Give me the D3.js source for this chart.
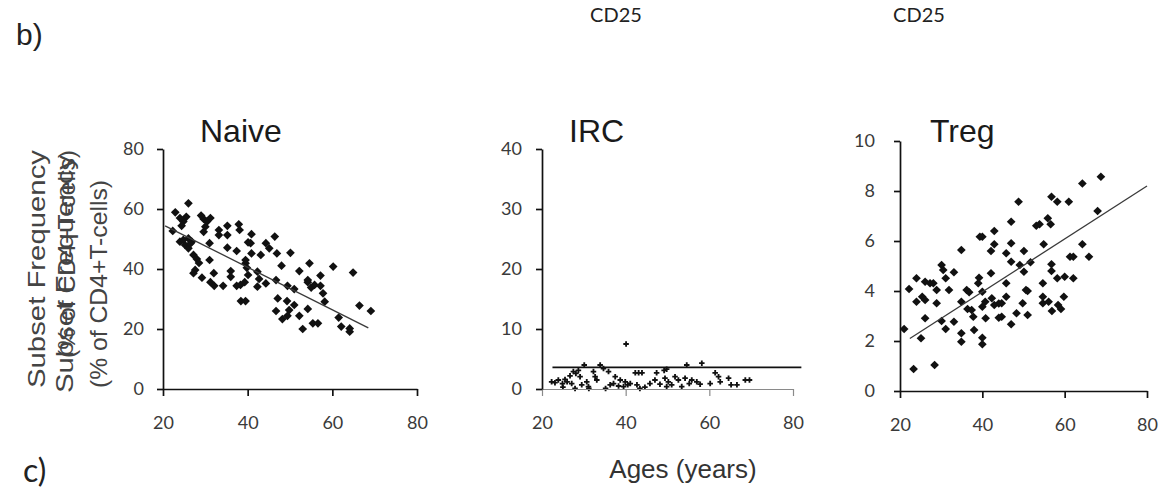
<!DOCTYPE html>
<html>
<head>
<meta charset="utf-8">
<script src="https://cdn.jsdelivr.net/npm/d3@7"></script>
<style>
  body { margin: 0; background: #fff; }
  svg { display: block; }
</style>
</head>
<body>
<div id="chart"></div>
<script>
// ages on x, subset frequency (% of CD4+ T-cells) on y
const naiveAge = [26.0, 22.9, 25.5, 24.8, 24.4, 22.3, 29.6, 30.4, 30.0, 29.6, 33.2, 33.2, 35.2, 35.2, 37.9, 38.1,
  40.9, 40.1, 46.4, 44.3, 45.1, 46.9, 50.1, 43.1, 40.9, 37.4, 35.2, 31.0, 26.0, 25.2, 26.8, 26.0, 27.2, 28.0,
  31.0, 27.6, 27.2, 29.2, 32.0, 31.2, 32.1, 34.2, 36.0, 36.0, 37.4, 39.3, 39.5, 39.8, 40.1, 42.3, 42.7, 42.3,
  44.3, 38.4, 39.5, 48.0, 46.7, 49.4, 51.0, 52.2, 54.6, 54.2, 55.0, 57.2, 57.2, 57.8, 58.2, 60.2, 64.9, 47.1,
  49.3, 46.7, 51.0, 49.8, 49.4, 48.2, 52.2, 54.2, 53.0, 55.4, 56.6, 61.5, 62.1, 64.1, 64.1, 66.4, 69.1, 24.0,
  24.8, 40.7, 39.5, 38.3, 54.2, 55.8, 24.0, 29.0, 31.2, 26.5, 28.5];
const naiveFreq = [61.9, 58.9, 57.4, 55.8, 54.4, 52.7, 56.7, 55.8, 54.1, 52.4, 53.0, 51.3, 54.4, 51.3, 54.9, 53.0,
  51.6, 48.9, 50.8, 48.6, 46.9, 45.2, 45.4, 44.7, 45.2, 46.0, 47.1, 48.6, 50.2, 48.0, 49.1, 46.9, 44.7, 43.3,
  43.0, 39.7, 38.6, 37.1, 38.6, 35.6, 34.4, 34.4, 39.3, 37.4, 34.4, 35.6, 41.9, 40.4, 38.0, 39.1, 36.7, 34.1,
  35.2, 29.3, 29.3, 41.1, 36.3, 34.4, 33.3, 39.3, 41.9, 35.6, 33.8, 37.8, 34.4, 31.9, 29.1, 40.8, 38.8, 30.2,
  29.3, 26.0, 28.0, 26.3, 24.4, 23.3, 24.4, 26.7, 20.0, 21.9, 21.9, 23.8, 20.8, 20.2, 19.1, 27.8, 26.0, 49.1,
  49.7, 48.6, 43.0, 34.7, 36.3, 34.7, 57.0, 57.8, 57.0, 48.5, 42.0];

const ircAge = [22.3, 23.1, 23.9, 24.9, 25.5, 26.0, 26.7, 27.1, 27.5, 28.1, 28.7, 29.1, 27.9, 29.5, 30.1, 30.7,
  31.1, 32.3, 32.7, 33.1, 33.9, 34.7, 35.9, 36.3, 37.1, 37.5, 38.3, 38.7, 39.5, 39.9, 40.5, 41.1, 42.3, 43.1,
  43.9, 42.7, 43.4, 44.6, 45.8, 47.0, 47.4, 48.2, 49.2, 49.4, 50.2, 51.0, 51.8, 52.6, 53.4, 54.2, 54.6, 55.2,
  55.8, 57.0, 57.8, 58.2, 60.2, 61.4, 62.2, 62.6, 64.6, 65.2, 66.6, 68.6, 69.6, 25.0, 31.2, 35.2, 49.8, 49.8,
  40.1];
const ircFreq = [1.2, 1.05, 1.5, 0.9, 1.6, 1.2, 2.2, 0.9, 2.9, 2.6, 3.1, 2.05, 0.1, 0.7, 4.0, 1.2,
  0.4, 2.9, 2.05, 1.5, 4.0, 3.4, 2.9, 0.7, 0.9, 2.05, 0.5, 1.5, 0.4, 1.2, 0.7, 0.9, 2.7, 2.7,
  2.7, 0.7, 0.1, 0.3, 0.9, 1.5, 2.7, 0.8, 3.1, 1.8, 1.2, 0.7, 2.05, 1.5, 0.4, 1.8, 4.0, 0.9,
  1.5, 1.2, 0.8, 4.3, 0.9, 2.7, 2.05, 1.2, 1.8, 0.7, 0.7, 1.5, 1.5, 0.3, 0.1, 0.1, 0.4, 3.3,
  7.5];

const tregAge = [68.8, 64.3, 68.0, 56.8, 58.2, 61.0, 48.8, 47.0, 53.1, 53.9, 55.9, 56.6, 39.4, 40.0, 42.9, 42.9,
  34.9, 42.1, 47.0, 45.8, 50.1, 54.9, 64.3, 61.3, 62.1, 65.9, 47.0, 49.1, 51.7, 50.1, 56.8, 56.8, 58.2, 60.0,
  62.1, 54.7, 59.8, 54.7, 54.7, 56.1, 56.9, 58.4, 59.1, 50.6, 51.0, 49.8, 48.3, 51.0, 47.0, 45.8, 45.8, 44.7,
  44.0, 42.9, 44.7, 44.0, 42.3, 40.7, 40.0, 40.8, 42.1, 40.0, 39.0, 39.2, 36.2, 36.8, 34.9, 36.4, 37.4, 37.8,
  38.0, 34.9, 34.9, 40.0, 40.0, 33.1, 30.1, 31.1, 26.1, 25.1, 21.0, 23.3, 28.4, 22.2, 24.0, 24.0, 25.4, 26.1,
  26.1, 27.3, 28.1, 28.9, 28.9, 30.1, 30.5, 31.1, 31.9, 33.1];
const tregFreq = [8.57, 8.3, 7.2, 7.77, 7.57, 7.57, 7.57, 6.77, 6.61, 6.67, 6.91, 6.67, 6.17, 6.17, 6.4, 5.87,
  5.64, 5.6, 5.91, 5.51, 5.6, 5.87, 5.87, 5.37, 5.37, 5.37, 5.17, 5.04, 5.15, 4.77, 5.07, 4.8, 4.51, 4.57,
  4.51, 4.31, 3.77, 3.77, 3.51, 3.57, 3.2, 3.44, 3.28, 4.04, 4.0, 3.51, 3.11, 3.04, 2.67, 4.31, 3.77, 3.51,
  3.5, 3.44, 2.97, 2.93, 3.71, 3.57, 3.37, 2.91, 4.71, 3.97, 4.31, 4.53, 4.04, 3.95, 3.57, 3.28, 3.24, 2.97,
  2.44, 2.31, 1.97, 2.13, 1.87, 2.77, 2.8, 2.48, 2.91, 2.11, 2.48, 0.88, 1.04, 4.08, 4.51, 3.57, 3.77, 3.64,
  4.37, 4.31, 4.31, 4.04, 3.51, 5.04, 4.84, 4.51, 4.04, 4.75];

// trend lines as drawn in the figure (age, frequency)
const naiveFit = [[20.5, 54.4], [68.5, 20.4]];
const ircFit = [[22.5, 3.6], [82, 3.6]];
const tregFit = [[22.4, 2.1], [80, 8.2]];

const ageTicks = [20, 40, 60, 80];
const naiveTicks = [0, 20, 40, 60, 80];
const ircTicks = [0, 10, 20, 30, 40];
const tregTicks = [0, 2, 4, 6, 8, 10];

const W = 1160, H = 495;

const svg = d3.select("#chart").append("svg")
  .attr("width", W)
  .attr("height", H);

const panels = [
  { title: "Naive", age: naiveAge, freq: naiveFreq, fit: naiveFit, ticks: naiveTicks, ymax: 80,
    x0: 163, x1: 417, y0: 389, y1: 149, ypad: 13, tx: 200, mark: "diamond", xaxisColor: "#111" },
  { title: "IRC", age: ircAge, freq: ircFreq, fit: ircFit, ticks: ircTicks, ymax: 40,
    x0: 542, x1: 793, y0: 389, y1: 149, ypad: 14, tx: 569, mark: "cross", xaxisColor: "#8a8a8a" },
  { title: "Treg", age: tregAge, freq: tregFreq, fit: tregFit, ticks: tregTicks, ymax: 10,
    x0: 900, x1: 1147, y0: 391, y1: 141, ypad: 19, tx: 930, mark: "diamond", xaxisColor: "#111" }
];

const diamond = d3.symbol().type(d3.symbolSquare).size(38);
const cross = d3.symbol().type(d3.symbolCross).size(17);

panels.forEach(p => {
  const x = d3.scaleLinear().domain([20, 80]).range([p.x0, p.x1]);
  const y = d3.scaleLinear().domain([0, p.ymax]).range([p.y0, p.y1]);
  const g = svg.append("g");

  // points
  const pts = d3.range(p.age.length).map(i => [p.age[i], p.freq[i]]);
  g.selectAll("path.pt")
    .data(pts)
    .enter()
    .append("path")
    .attr("class", "pt")
    .attr("d", p.mark == "diamond" ? diamond : cross)
    .attr("transform", function(d) {
      return "translate(" + x(d[0]) + "," + y(d[1]) + ")" + (p.mark == "diamond" ? " rotate(45)" : "");
    })
    .attr("fill", "#111");

  // fit line
  g.append("path")
    .attr("d", d3.line().x(d => x(d[0])).y(d => y(d[1]))(p.fit))
    .attr("fill", "none")
    .attr("stroke", p.mark == "cross" ? "#111" : "#3a3a3a")
    .attr("stroke-width", p.mark == "cross" ? 1.8 : 1.3);

  // axes
  const xa = g.append("g")
    .attr("transform", "translate(0," + p.y0 + ")")
    .call(d3.axisBottom(x).tickValues(ageTicks).tickSize(7).tickSizeOuter(0).tickPadding(20));
  xa.selectAll("path,line").attr("stroke", p.xaxisColor).attr("stroke-width", p.mark == "cross" ? 1.2 : 1.7);

  const ya = g.append("g")
    .attr("transform", "translate(" + p.x0 + ",0)")
    .call(d3.axisLeft(y).tickValues(p.ticks).tickSize(6).tickSizeOuter(0).tickPadding(p.ypad));
  ya.selectAll("path,line").attr("stroke", "#111").attr("stroke-width", 1.7);

  g.selectAll(".tick text")
    .attr("font-family", "Lato, 'Open Sans', sans-serif")
    .attr("font-size", 18)
    .attr("fill", "#3a3a3a");

  // title
  g.append("text")
    .attr("x", p.tx)
    .attr("y", 142)
    .attr("font-family", "'Liberation Sans', Arial, sans-serif")
    .attr("font-size", 32)
    .attr("fill", "#1a1a1a")
    .text(p.title);
});

// y axis title, printed twice slightly offset like in the figure
const ylab = [
  { t: "Subset Frequency", x: 45, y: 388, len: 238 },
  { t: "Subset Frequency", x: 73, y: 393, len: 238 },
  { t: "(% of CD4+T-cells)", x: 75, y: 358, len: 208 },
  { t: "(% of CD4+T-cells)", x: 107, y: 388, len: 208 }
];
svg.selectAll("text.ylab")
  .data(ylab)
  .enter()
  .append("text")
  .attr("class", "ylab")
  .attr("transform", d => "translate(" + d.x + "," + d.y + ") rotate(-90)")
  .attr("font-family", "'Liberation Sans', Arial, sans-serif")
  .attr("font-size", 24)
  .attr("textLength", d => d.len)
  .attr("lengthAdjust", "spacingAndGlyphs")
  .attr("fill", "#444")
  .text(d => d.t);

svg.append("text")
  .attr("x", 683)
  .attr("y", 478)
  .attr("text-anchor", "middle")
  .attr("font-family", "'Liberation Sans', Arial, sans-serif")
  .attr("font-size", 26)
  .attr("fill", "#333")
  .text("Ages (years)");

// panel letters and cut-off labels from the figure above
svg.append("text")
  .attr("x", 16).attr("y", 45)
  .attr("font-family", "'Liberation Sans', Arial, sans-serif")
  .attr("font-size", 30)
  .attr("fill", "#222")
  .text("b)");

svg.append("text")
  .attr("x", 23).attr("y", 482)
  .attr("font-family", "Lato, sans-serif")
  .attr("font-size", 32)
  .attr("fill", "#222")
  .text("c)");

[616, 919].forEach(cx => {
  svg.append("text")
    .attr("x", cx).attr("y", 22)
    .attr("text-anchor", "middle")
    .attr("font-family", "Lato, sans-serif")
    .attr("font-size", 20)
    .attr("fill", "#222")
    .text("CD25");
});
</script>
</body>
</html>
